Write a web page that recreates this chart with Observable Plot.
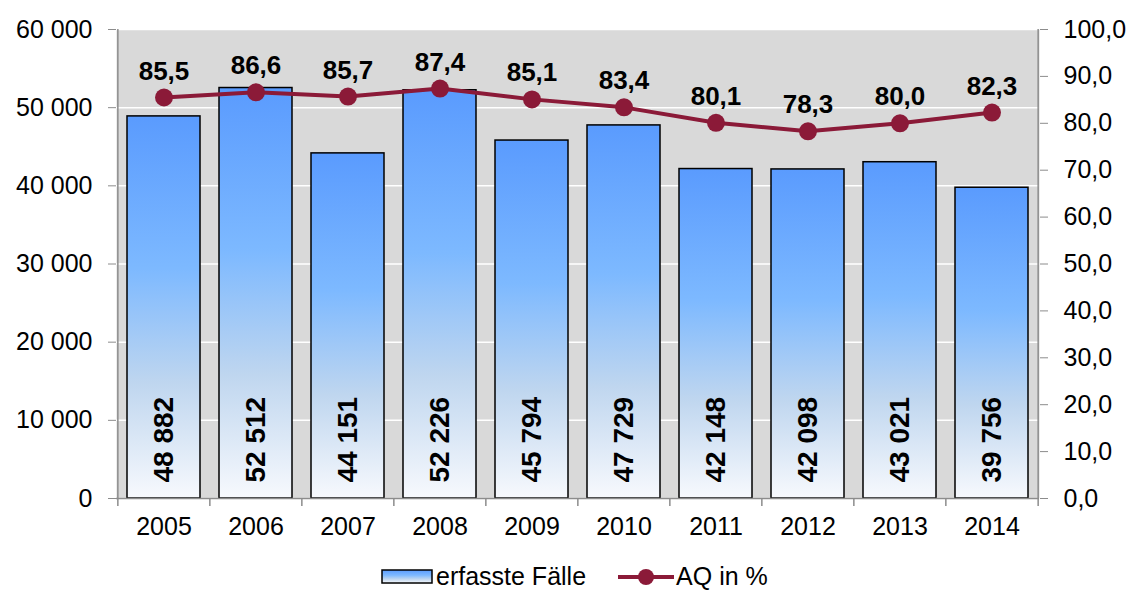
<!DOCTYPE html>
<html><head><meta charset="utf-8">
<script src="https://cdn.jsdelivr.net/npm/d3@7"></script>
<script src="https://cdn.jsdelivr.net/npm/@observablehq/plot@0.6"></script>
<style>
body{margin:0;background:#fff;font-family:"Liberation Sans",Arial,sans-serif;width:1133px;height:593px;overflow:hidden;}
#legend{height:33px;display:flex;align-items:center;padding-left:380px;padding-top:5px;font-size:25px;color:#000;}
#legend .item{display:flex;align-items:center;}
#legend svg{display:block;}
</style></head><body>
<svg width="0" height="0" style="position:absolute"><defs>
<linearGradient id="barGrad" x1="0" y1="0" x2="0" y2="1">
<stop offset="0" stop-color="#5a9bfe"/>
<stop offset="0.4" stop-color="#7db9ff"/>
<stop offset="0.7" stop-color="#bfd6ef"/>
<stop offset="1" stop-color="#f7f9fd"/>
</linearGradient></defs></svg>
<div id="chart"></div>
<div id="legend"></div>
<script>
const years = ["2005","2006","2007","2008","2009","2010","2011","2012","2013","2014"];
const cases = [48882, 52512, 44151, 52226, 45794, 47729, 42148, 42098, 43021, 39756];
const aq = [85.5, 86.6, 85.7, 87.4, 85.1, 83.4, 80.1, 78.3, 80.0, 82.3];
const leftTicks = [0, 10000, 20000, 30000, 40000, 50000, 60000];
const rightTicks = [0, 10, 20, 30, 40, 50, 60, 70, 80, 90, 100];
const seriesNames = ["erfasste Fälle", "AQ in %"];

const k = 60000 / 100;
const data = years.map((y, i) => ({year: y, cases: cases[i], aq: aq[i], aqScaled: aq[i] * k}));
const W = 1133, H = 555, mL = 116, mR = 94, mT = 29, mB = 57;
const step = (W - mL - mR) / years.length;
const lineColor = "#8b1a38";
const axisGray = "#8c8c8c";
const fmtCases = v => d3.format(",")(v).replace(/,/g, " ");
const fmtPct = v => v.toFixed(1).replace(".", ",");

const chart = Plot.plot({
  width: W, height: H,
  marginLeft: mL, marginRight: mR, marginTop: mT, marginBottom: mB,
  style: {fontFamily: "Liberation Sans, Arial, sans-serif", fontSize: "25px", color: "#000", background: "#fff"},
  x: {domain: years, paddingInner: 0.21, paddingOuter: 0.105, axis: null, label: null},
  y: {domain: [0, 60000], axis: null, label: null},
  marks: [
    Plot.frame({fill: "#d9d9d9", stroke: null}),
    Plot.gridY(leftTicks, {stroke: "#fff", strokeOpacity: 1, strokeWidth: 1.5}),
    Plot.barY(data, {x: "year", y: "cases", fill: "url(#barGrad)", stroke: "#000", strokeWidth: 1.5}),
    Plot.ruleX([years[0]], {x: d => d, dx: -step / 2, stroke: axisGray, strokeWidth: 1.5}),
    Plot.ruleX([years[years.length - 1]], {x: d => d, dx: step / 2, stroke: axisGray, strokeWidth: 1.5}),
    Plot.ruleY([0], {stroke: axisGray, strokeWidth: 1.5}),
    Plot.ruleX(years, {x: d => d, y1: 0, y2: 0, dx: -step / 2, insetTop: 8, stroke: axisGray, strokeWidth: 1.5}),
    Plot.ruleX([years[years.length - 1]], {x: d => d, y1: 0, y2: 0, dx: step / 2, insetTop: 8, stroke: axisGray, strokeWidth: 1.5}),
    Plot.axisX({tickSize: 0, tickPadding: 19, fontSize: 25, fill: "#000", label: null}),
    Plot.axisY(leftTicks, {anchor: "left", tickSize: 8, tickPadding: 16, tickFormat: fmtCases, stroke: axisGray, fill: "#000", fontSize: 25, label: null}),
    Plot.axisY(rightTicks.map(v => v * k), {anchor: "right", tickSize: 8, tickPadding: 16, tickFormat: d => fmtPct(d / k), stroke: axisGray, fill: "#000", fontSize: 25, textAnchor: "start", label: null}),
    Plot.text(data, {x: "year", frameAnchor: "bottom", text: d => fmtCases(d.cases), rotate: -90, textAnchor: "start", lineAnchor: "middle", dy: -16, fontWeight: "bold", fontSize: 28, fill: "#000"}),
    Plot.line(data, {x: "year", y: "aqScaled", stroke: lineColor, strokeWidth: 4}),
    Plot.dot(data, {x: "year", y: "aqScaled", r: 9, fill: lineColor, stroke: null}),
    Plot.text(data, {x: "year", y: "aqScaled", text: d => fmtPct(d.aq), lineAnchor: "bottom", dy: -18, fontWeight: "bold", fontSize: 26, fill: "#000"})
  ]
});
document.getElementById("chart").appendChild(chart);

const legend = document.getElementById("legend");
legend.innerHTML = `
<div class="item"><svg width="56" height="20"><rect x="2" y="3" width="50" height="13" fill="url(#barGrad)" stroke="#000" stroke-width="1.5"/></svg><span>${seriesNames[0]}</span></div>
<div class="item" style="margin-left:30px"><svg width="60" height="20"><line x1="2" y1="10" x2="58" y2="10" stroke="${lineColor}" stroke-width="4"/><circle cx="30" cy="10" r="8" fill="${lineColor}"/></svg><span>${seriesNames[1]}</span></div>`;
</script>
</body></html>
